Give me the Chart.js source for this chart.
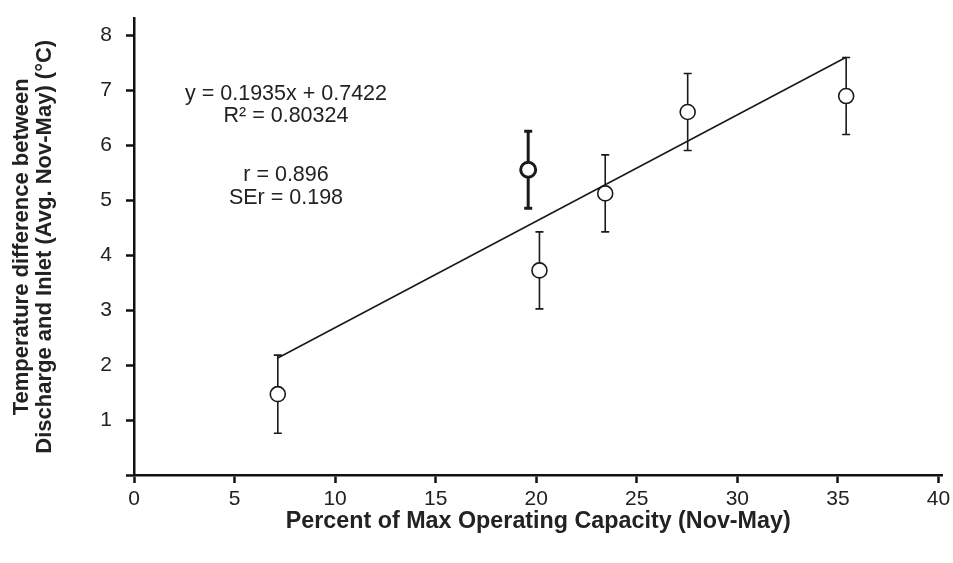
<!DOCTYPE html>
<html>
<head>
<meta charset="utf-8">
<script src="https://cdn.jsdelivr.net/npm/chart.js@4"></script>
<style>
  html, body { margin: 0; padding: 0; background: #fff; }
  #wrap { width: 953px; height: 563px; }
</style>
</head>
<body>
<div id="wrap"><canvas id="capChart"></canvas></div>
<script>
// Data
const capacity = [7.15, 19.6, 20.16, 23.43, 27.53, 35.41];
const tempDiff = [1.47, 5.55, 3.72, 5.12, 6.6, 6.89];
const errPlus = [0.71, 0.70, 0.70, 0.70, 0.70, 0.70];
const errMinus = [0.71, 0.70, 0.70, 0.70, 0.70, 0.70];
const fitX = [7.15, 35.41];
const fitY = [2.126, 7.594];
const xTicks = [0, 5, 10, 15, 20, 25, 30, 35, 40];
const yTicks = [0, 1, 2, 3, 4, 5, 6, 7, 8];
const statLines = ['y = 0.1935x + 0.7422', 'R\u00b2 = 0.80324', 'r = 0.896', 'SEr = 0.198'];

const FONT = 'Liberation Sans, Arial, sans-serif';
// the point at ~19.6 is drawn heavier in the original
const heavy = capacity.map((v, i) => i === 1);

const errorBars = {
  id: 'errorBars',
  beforeDatasetsDraw(chart) {
    const ctx = chart.ctx;
    const xs = chart.scales.x, ys = chart.scales.y;
    ctx.save();
    ctx.strokeStyle = '#1a1a1a';
    capacity.forEach((v, i) => {
      const px = xs.getPixelForValue(v);
      const top = ys.getPixelForValue(tempDiff[i] + errPlus[i]);
      const bot = ys.getPixelForValue(tempDiff[i] - errMinus[i]);
      ctx.lineWidth = heavy[i] ? 3 : 1.6;
      ctx.beginPath();
      ctx.moveTo(px, top); ctx.lineTo(px, bot);
      ctx.moveTo(px - 4, top); ctx.lineTo(px + 4, top);
      ctx.moveTo(px - 4, bot); ctx.lineTo(px + 4, bot);
      ctx.stroke();
    });
    ctx.restore();
  },
  afterDraw(chart) {
    const ctx = chart.ctx;
    ctx.save();
    ctx.fillStyle = '#222';
    ctx.font = '21.5px ' + FONT;
    ctx.textAlign = 'center';
    ctx.textBaseline = 'middle';
    const cx = 286;
    ctx.fillText(statLines[0], cx, 94);
    ctx.fillText(statLines[1], cx, 116);
    ctx.fillText(statLines[2], cx, 175);
    ctx.fillText(statLines[3], cx, 198);
    ctx.restore();
  }
};

// stop tick labels from pushing the plot area around
function noPad(axis) {
  axis.paddingTop = 0;
  axis.paddingBottom = 0;
  axis.paddingLeft = 0;
  axis.paddingRight = 0;
}

new Chart(document.getElementById('capChart'), {
  type: 'scatter',
  data: {
    datasets: [
      {
        label: 'Observed',
        data: capacity.map((x, i) => ({ x: x, y: tempDiff[i] })),
        pointRadius: 7.5,
        pointHoverRadius: 7.5,
        pointBackgroundColor: '#fff',
        pointBorderColor: '#1a1a1a',
        pointBorderWidth: heavy.map(h => h ? 3 : 1.6),
        order: 1
      },
      {
        label: 'Fit',
        type: 'line',
        data: fitX.map((x, i) => ({ x: x, y: fitY[i] })),
        borderColor: '#1a1a1a',
        borderWidth: 1.6,
        pointRadius: 0,
        fill: false,
        order: 2
      }
    ]
  },
  options: {
    responsive: true,
    maintainAspectRatio: false,
    animation: false,
    events: [],
    layout: { padding: { top: 18.5, right: 0, left: 0, bottom: 0 } },
    plugins: { legend: { display: false }, tooltip: { enabled: false } },
    scales: {
      x: {
        type: 'linear',
        min: 0,
        max: 40.2,
        afterBuildTicks: axis => { axis.ticks = xTicks.map(v => ({ value: v })); },
        afterFit: axis => { axis.height = 88; noPad(axis); },
        border: { display: true, color: '#111', width: 2.5 },
        grid: { drawOnChartArea: false, drawTicks: true, tickLength: 8, tickWidth: 2.5, tickColor: '#111' },
        ticks: { color: '#222', padding: 4, font: { family: FONT, size: 21 } },
        title: {
          display: true,
          text: 'Percent of Max Operating Capacity (Nov-May)',
          color: '#222',
          font: { family: FONT, size: 23.3, weight: 'bold', lineHeight: 1.0 },
          padding: { top: 0, bottom: 29.5 }
        }
      },
      y: {
        type: 'linear',
        min: 0,
        max: 8.3,
        afterBuildTicks: axis => { axis.ticks = yTicks.map(v => ({ value: v })); },
        afterFit: axis => { axis.width = 134; noPad(axis); },
        border: { display: true, color: '#111', width: 2.5 },
        grid: { drawOnChartArea: false, drawTicks: true, tickLength: 8, tickWidth: 2.5, tickColor: '#111' },
        ticks: {
          color: '#222',
          padding: 14,
          font: { family: FONT, size: 21 },
          callback: v => (v === 0 ? '' : v)
        },
        title: {
          display: true,
          text: ['Temperature difference between', 'Discharge and Inlet (Avg. Nov-May) (\u00b0C)'],
          color: '#222',
          font: { family: FONT, size: 22, weight: 'bold', lineHeight: 1.045 },
          padding: { top: 10.5, bottom: 0 }
        }
      }
    }
  },
  plugins: [errorBars]
});
</script>
</body>
</html>
